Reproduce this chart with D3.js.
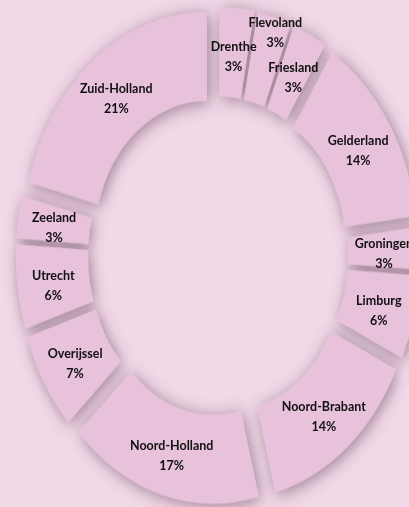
<!DOCTYPE html>
<html>
<head>
<meta charset="utf-8">
<script src="https://cdn.jsdelivr.net/npm/d3@7"></script>
<style>
  html, body { margin: 0; padding: 0; background: #f2d9e8; }
  svg { display: block; }
  .label { font-family: Lato, "Open Sans", sans-serif; font-weight: bold; font-size: 12.5px; fill: #111; }
</style>
</head>
<body>
<div id="chart"></div>
<script>
var provinces = ["Drenthe", "Flevoland", "Friesland", "Gelderland", "Groningen", "Limburg",
                 "Noord-Brabant", "Noord-Holland", "Overijssel", "Utrecht", "Zeeland", "Zuid-Holland"];
var shares = [3, 3, 3, 14, 3, 6, 14, 17, 7, 6, 3, 21];

var width = 409, height = 507;
var cx = 218, cy = 256, yScale = 1.23;
var innerR = 112, outerR = 184, explode = 18;

var svg = d3.select("#chart").append("svg")
    .attr("width", width)
    .attr("height", height);

var defs = svg.append("defs");
var shadow = defs.append("filter")
    .attr("id", "shadow")
    .attr("x", "-30%").attr("y", "-30%")
    .attr("width", "160%").attr("height", "160%");
shadow.append("feDropShadow")
    .attr("dx", 2).attr("dy", 2)
    .attr("stdDeviation", 7)
    .attr("flood-color", "#654457")
    .attr("flood-opacity", 0.62);

svg.append("rect")
    .attr("width", width)
    .attr("height", height)
    .attr("fill", "#f2d9e8");

var pie = d3.pie().sort(null).value(d => d.value);
var arc = d3.arc().innerRadius(innerR).outerRadius(outerR);

var data = pie(provinces.map((p, i) => ({ name: p, value: shares[i] })));

function mid(d) { return (d.startAngle + d.endAngle) / 2; }

var ring = svg.append("g")
    .attr("transform", `translate(${cx},${cy}) scale(1,${yScale})`)
    .attr("filter", "url(#shadow)");

ring.selectAll("path.slice")
    .data(data)
    .enter()
    .append("path")
    .attr("class", "slice")
    .attr("transform", d => `translate(${explode * Math.sin(mid(d))},${-explode * Math.cos(mid(d))})`)
    .attr("d", arc)
    .attr("fill", "#e8c1da");

// labels sit on the centroid of the exploded slice; Flevoland is lifted clear of its neighbours
var labelR = (innerR + outerR) / 2 + explode;
var nudge = { "Flevoland": [11, -31] };

var labels = svg.selectAll("text.label")
    .data(data)
    .enter()
    .append("text")
    .attr("class", "label")
    .attr("text-anchor", "middle")
    .attr("transform", d => {
        var a = mid(d);
        var n = nudge[d.data.name] || [0, 0];
        var x = cx + labelR * Math.sin(a) + n[0];
        var y = cy - yScale * labelR * Math.cos(a) + n[1];
        return `translate(${x},${y})`;
    });

labels.append("tspan")
    .attr("x", 0)
    .attr("dy", "-0.15em")
    .text(d => d.data.name);

labels.append("tspan")
    .attr("x", 0)
    .attr("dy", "1.6em")
    .text(d => d.data.value + "%");
</script>
</body>
</html>
